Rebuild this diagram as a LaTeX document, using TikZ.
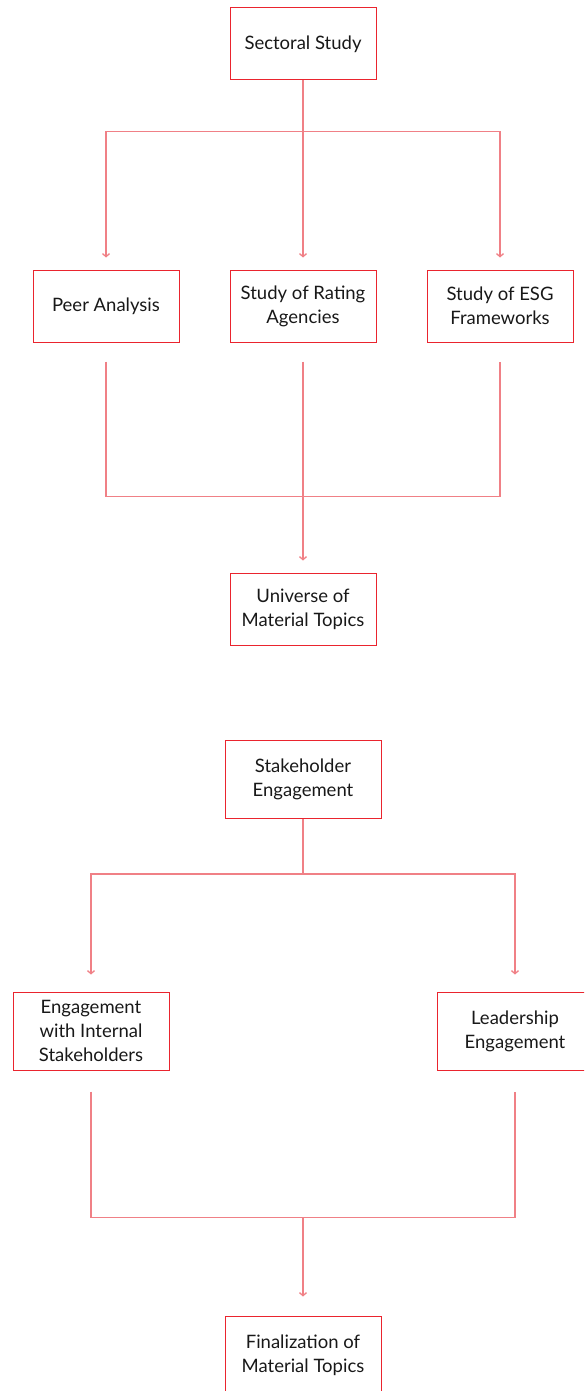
\documentclass[tikz,border=0pt]{standalone}
\usepackage{fontspec}
\setmainfont{Lato}
\usepackage{tikz}
\usetikzlibrary{arrows.meta}
\usetikzlibrary{calc}

\definecolor{boxred}{RGB}{234,36,46}
\definecolor{linkred}{RGB}{240,128,134}
\definecolor{ink}{RGB}{24,24,24}

\tikzset{
  box/.style={shape=rectangle,draw=boxred,line width=1pt,minimum width=146pt,minimum height=72pt,inner sep=0pt,align=center,text=ink,font=\fontsize{18.5}{24}\selectfont},
  widebox/.style={box,minimum width=156pt,minimum height=78pt},
  link/.style={draw=linkred,line width=1.3pt},
  tip/.style={link,-{Straight Barb[length=3pt,width=7pt]}}
}

\begin{document}
\begin{tikzpicture}[x=1pt,y=-1pt]
\useasboundingbox (0,0) rectangle (584,1391);
\clip (0,0) rectangle (584,1391);
% first stage
\draw (303,44) node (sectoral) [box] {Sectoral Study};
\draw (106,306) node (peer) [box] {Peer Analysis};
\draw (303,306) node (rating) [box] {Study of Rating\\Agencies};
\draw (500,306) node (esg) [box] {Study of ESG\\Frameworks};
\draw (303,609) node (universe) [box] {Universe of\\Material Topics};
\draw[link] (sectoral.south) -- ++(0,51) coordinate (fork1);
\draw[tip] (fork1) -| ($(peer.north)+(0,-12)$);
\draw[tip] (fork1) -- ($(rating.north)+(0,-12)$);
\draw[tip] (fork1) -| ($(esg.north)+(0,-12)$);
\draw[link] ($(peer.south)+(0,19)$) -- ++(0,135) coordinate (join1) -| ($(esg.south)+(0,19)$);
\draw[tip] ($(rating.south)+(0,19)$) -- ($(universe.north)+(0,-12)$);
% second stage
\draw (303,779.5) node (stake) [widebox] {Stakeholder\\Engagement};
\draw (91,1031) node (internal) [widebox] {Engagement\\with Internal\\Stakeholders};
\draw (515,1031) node (leader) [widebox] {Leadership\\Engagement};
\draw (303,1355) node (final) [widebox] {Finalization of\\Material Topics};
\draw[link] (stake.south) -- ++(0,55) coordinate (fork2);
\draw[tip] (fork2) -| ($(internal.north)+(0,-17)$);
\draw[tip] (fork2) -| ($(leader.north)+(0,-17)$);
\draw[link] ($(internal.south)+(0,21)$) -- ++(0,126) coordinate (join2) -| ($(leader.south)+(0,21)$);
\draw[tip] (join2 -| final) -- ($(final.north)+(0,-19)$);
\end{tikzpicture}
\end{document}
